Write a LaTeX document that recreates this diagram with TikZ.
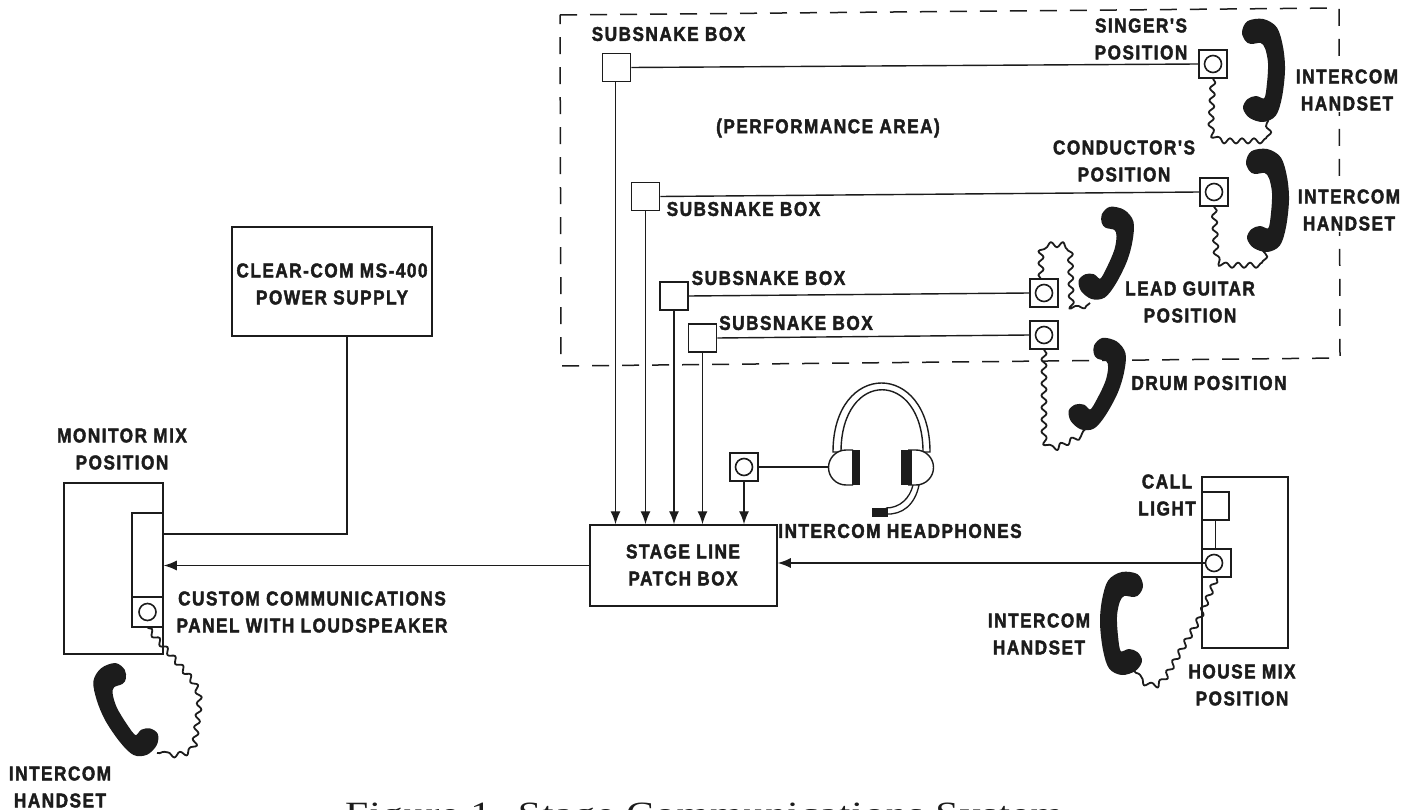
\documentclass[tikz,border=0pt]{standalone}
\usepackage{fontspec}
\usetikzlibrary{arrows.meta,decorations.pathmorphing}
\newfontfamily\labfont[BoldFeatures={FakeStretch=0.86,LetterSpace=7.5,FakeBold=2}]{Liberation Sans}
\newfontfamily\capfont[FakeStretch=1.225,LetterSpace=3]{Liberation Serif}
\definecolor{ink}{HTML}{1C1C1C}
\tikzset{
  lab/.style={font=\labfont\bfseries\fontsize{20}{27}\selectfont,align=center,text=ink,inner sep=1pt},
  labw/.style={lab,fill=white},
  wire/.style={draw=ink,line width=1.4pt},
  arrowwire/.style={wire,-{Latex[length=13pt,width=10pt]}},
  boxn/.style={draw=ink,line width=1.5pt,fill=white,rectangle,inner sep=0pt},
  sbox/.style={boxn,minimum width=28pt,minimum height=28pt},
  jack/.style={boxn,minimum width=28pt,minimum height=28pt},
  jackring/.style={draw=ink,line width=1.6pt,circle,fill=white,minimum size=17pt,inner sep=0pt},
  coil/.style={draw=ink,line width=1.8pt,line join=round,decorate,decoration={snake,segment length=12pt,amplitude=2.6pt}},
  perim/.style={draw=ink,line width=1.5pt,dash pattern=on 17pt off 13pt},
  hs/.pic={\fill[ink,draw=ink,line width=2pt,line join=round] plot[smooth cycle,tension=0.55] coordinates {(-20,-38) (-15,-48) (0,-50) (13,-42) (19,-23) (21,0) (18,27) (12,45) (0,51) (-13,47) (-19,38) (-15,30) (-7,27) (2,29) (5,13) (6,-7) (3,-22) (-2,-28) (-12,-27) (-17,-30)};}
}
\begin{document}
\begin{tikzpicture}[x=1pt,y=-1pt]
\useasboundingbox (0,0) rectangle (1411,810);
\clip (0,0) rectangle (1411,810);
\fill[white] (0,0) rectangle (1411,810);
% performance area
\draw[perim] (560,15) -- (1339,8) -- (1340,358) -- (561,366) -- cycle;
% boxes
\node[sbox] (sb1) at (616.5,67.5) {};
\node[sbox] (sb2) at (645.5,196.5) {};
\node[sbox] (sb3) at (674,296) {};
\node[sbox] (sb4) at (702.5,338) {};
\node[jack] (j1) at (1213,64) {};
\node[jack] (j2) at (1214,192) {};
\node[jack] (j3) at (1044,293) {};
\node[jack] (j4) at (1044,335) {};
\node[jack] (j5) at (744,467) {};
\node[boxn,minimum width=200pt,minimum height=109pt] (ps) at (332,281.5) {};
\node[boxn,minimum width=187pt,minimum height=81pt] (patch) at (683.5,565.5) {};
\node[boxn,minimum width=99pt,minimum height=171pt] (mon) at (113.5,568.5) {};
\node[boxn,minimum width=31pt,minimum height=84pt] (panel) at (147.5,555) {};
\node[boxn,minimum width=31pt,minimum height=30pt] (j6) at (147.5,612) {};
\node[boxn,minimum width=86pt,minimum height=171pt] (house) at (1245,562.5) {};
\node[boxn,minimum width=27pt,minimum height=28pt] (light) at (1215.5,506) {};
\node[boxn,minimum width=29pt,minimum height=28pt] (j7) at (1216.5,563) {};
\node[jackring] (r1) at (j1) {};
\node[jackring] (r2) at (j2) {};
\node[jackring] (r3) at (j3) {};
\node[jackring] (r4) at (j4) {};
\node[jackring] (r5) at (j5) {};
\node[jackring] (r6) at (j6) {};
\node[jackring] (r7) at (1214,563) {};
% horizontal lines
\draw[wire] (sb1.east) -- (j1.west);
\draw[wire] (sb2.east) -- (j2.west);
\draw[wire] (sb3.east) -- (j3.west);
\draw[wire] (sb4.east) -- (j4.west);
% arrows to patch box
\draw[arrowwire] ([xshift=-1pt]sb1.south) -- ([xshift=-1pt]sb1.south |- patch.north);
\draw[arrowwire] (sb2.south) -- (sb2.south |- patch.north);
\draw[arrowwire] (sb3.south) -- (sb3.south |- patch.north);
\draw[arrowwire] (sb4.south) -- (sb4.south |- patch.north);
\draw[arrowwire] (j5.south) -- (j5.south |- patch.north);
\draw[arrowwire] (patch.west) -- (panel.east |- patch.west);
\draw[arrowwire] (r7.west) -- (r7.west -| patch.east);
\draw[wire] (light.south) -- (j7.north -| light.south);
\coordinate (psc) at (347,534);
\draw[wire] (ps.south -| psc) -- (psc) -- (psc -| panel.east);
% handsets
\pic[xshift=1263pt,yshift=-70pt] {hs};
\pic[xshift=1267pt,yshift=-200pt] {hs};
\pic[xshift=1108pt,yshift=-254pt,rotate=-20,scale=0.92] {hs};
\pic[xshift=1099pt,yshift=-385pt,rotate=-22,scale=0.92] {hs};
\pic[xshift=124pt,yshift=-711pt,rotate=28,xscale=-1,scale=0.95] {hs};
\pic[xshift=1122pt,yshift=-623pt,xscale=-1] {hs};
\fill[white] (60,757) rectangle (230,775);
% coils
\coordinate (c1a) at (1268,120);
\coordinate (c2a) at (1262,248);
\coordinate (c3a) at (1090,303);
\coordinate (c4a) at (1085,430);
\coordinate (c6a) at (157,753);
\coordinate (c7a) at (1133,670);
\draw[coil] (j1.south) -- (1211,122) .. controls (1211,132) and (1215,138) .. (1225,138) -- (1268,138) -- (c1a);
\draw[coil] (j2.south) -- (1216,250) .. controls (1216,258) and (1220,262) .. (1228,262) -- (1262,262) -- (c2a);
\draw[coil] (1041,279) -- (1041,256) .. controls (1041,250) and (1044,248) .. (1048,248) -- (1062,248) .. controls (1066,248) and (1068,250) .. (1068,256) -- (1069,305) .. controls (1069,315) and (1075,315) .. (c3a);
\draw[coil] (j4.south) -- (1044,432) .. controls (1044,442) and (1050,447) .. (1056,444) -- (c4a);
\draw[coil] (j6.south) -- (188,675) .. controls (200,690) and (198,700) .. (196,715) -- (193,740) .. controls (192,752) and (180,754) .. (c6a);
\draw[coil] (j7.south) -- (1200,617) -- (1168,672) .. controls (1160,685) and (1152,688) .. (c7a);
% headset
\draw[draw=ink,line width=1.4pt,fill=white] (833,452) .. controls (833,360) and (930,360) .. (930,452) -- (923,452) .. controls (923,369) and (841,369) .. (841,452) -- cycle;
\draw[ink,line width=1.4pt,fill=white] (853,450) -- (846,450) arc (-90:-270:17.5) -- (853,485);
\fill[ink] (852,450) rectangle (860,485);
\draw[ink,line width=1.4pt,fill=white] (908,450) -- (916,450) arc (-90:90:17.5) -- (908,485);
\fill[ink] (901,450) rectangle (912,485);
\draw[wire] (j5.east) -- (829,467);
\draw[draw=ink,line width=1.3pt] (913,485) .. controls (910,498) and (900,508) .. (886,508);
\draw[draw=ink,line width=1.3pt] (919,485) .. controls (915,505) and (902,515) .. (886,514);
\fill[ink] (872,508) rectangle (888,517);
% labels
\node[lab] (l1) at (668.5,34) {SUBSNAKE BOX};
\node[lab] (l2) at (743.5,209) {SUBSNAKE BOX};
\node[lab] (l3) at (768.5,278) {SUBSNAKE BOX};
\node[lab] (l4) at (796,323) {SUBSNAKE BOX};
\node[lab] (l5) at (828,128) {(PERFORMANCE AREA)};
\node[lab] (l6) at (1141,39) {SINGER'S\\POSITION};
\node[labw] (l7) at (1347,90) {INTERCOM\\HANDSET};
\node[lab] (l8) at (1124,161) {CONDUCTOR'S\\POSITION};
\node[labw] (l9) at (1349,210) {INTERCOM\\HANDSET};
\node[lab] (l10) at (1190,302) {LEAD GUITAR\\POSITION};
\node[lab] (l11) at (1209,383) {DRUM POSITION};
\node[lab] (l12) at (332,284) {CLEAR-COM MS-400\\POWER SUPPLY};
\node[lab] (l13) at (122,449) {MONITOR MIX\\POSITION};
\node[lab] (l14) at (312,612) {CUSTOM COMMUNICATIONS\\PANEL WITH LOUDSPEAKER};
\node[lab] (l15) at (60,787) {INTERCOM\\HANDSET};
\node[lab] (l16) at (683,565) {STAGE LINE\\PATCH BOX};
\node[lab] (l17) at (900,531) {INTERCOM HEADPHONES};
\node[lab] (l18) at (1167,495) {CALL\\LIGHT};
\node[lab] (l19) at (1039,634) {INTERCOM\\HANDSET};
\node[lab] (l20) at (1242,685) {HOUSE MIX\\POSITION};
\node[font=\capfont\fontsize{34}{40}\selectfont,text=ink,inner sep=0pt,anchor=base west] (cap) at (345,825) {Figure 1. Stage Communications System};
\end{tikzpicture}
\end{document}
